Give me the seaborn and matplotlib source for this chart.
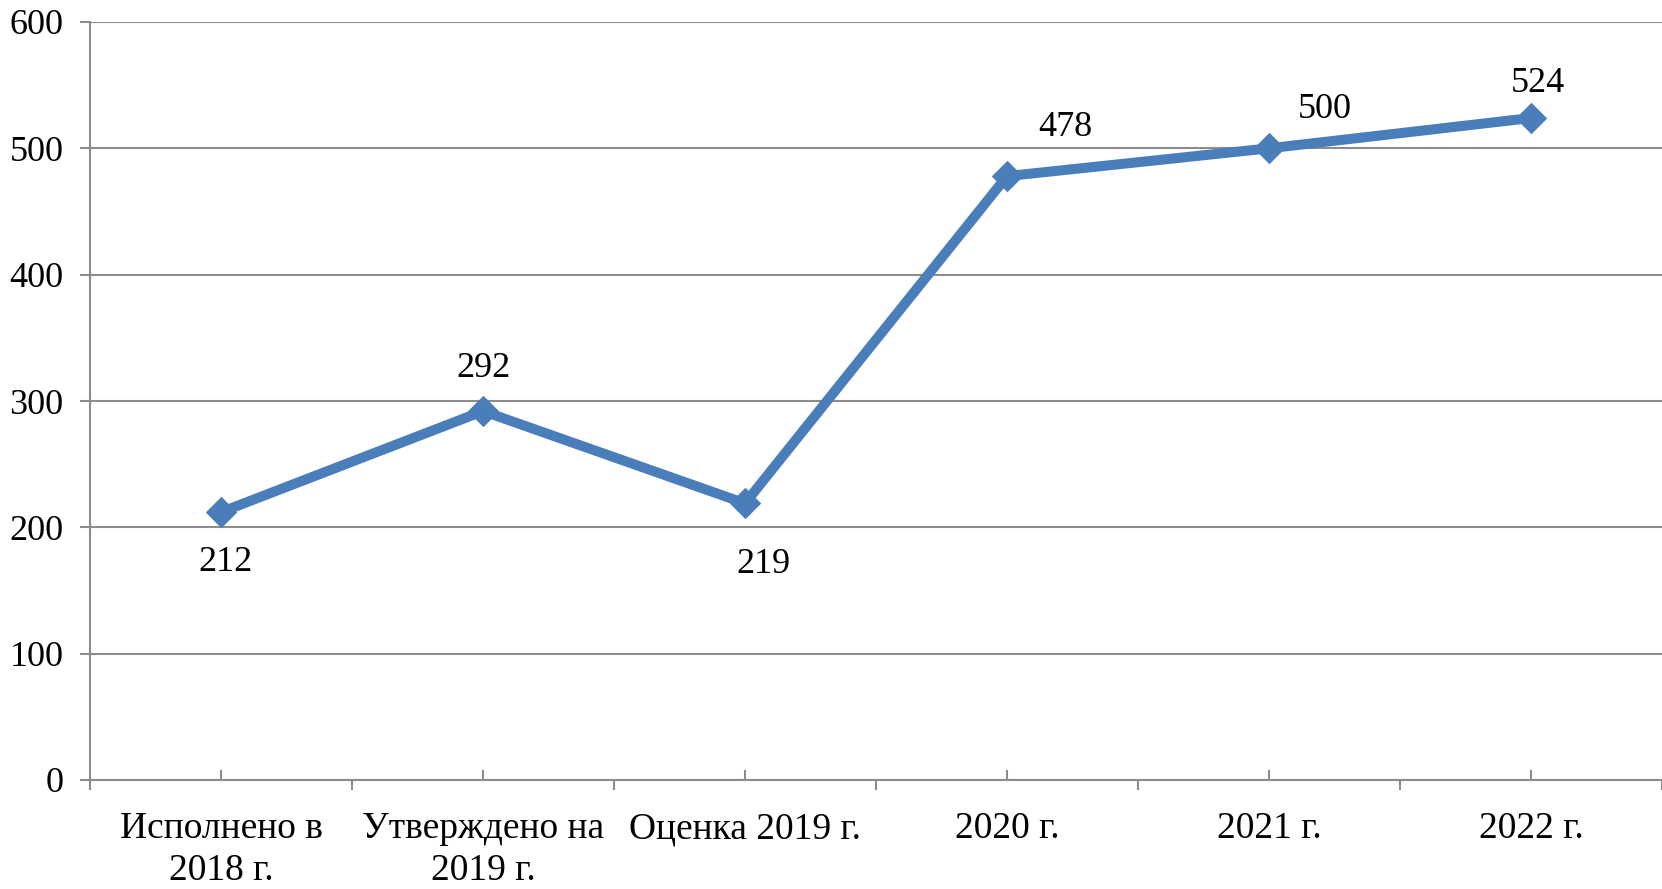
import matplotlib
matplotlib.use("Agg")
import matplotlib.pyplot as plt
import seaborn as sns
import numpy as np
import pandas as pd

# Data
categories = ["Исполнено в\n2018 г.", "Утверждено на\n2019 г.", "Оценка 2019 г.",
              "2020 г.", "2021 г.", "2022 г."]
values = [212, 292, 219, 478, 500, 524]
y_ticks = [0, 100, 200, 300, 400, 500, 600]

# label offsets in points (dx, dy), styling only
label_offsets = [(3, -36), (0, 31), (13, -44), (42, 35), (40, 28), (5, 25)]

line_color = "#4a7ebb"
grid_color = "#8c8c8c"

sns.set_theme(style="white")
plt.rcParams['font.family'] = ['Liberation Serif', 'DejaVu Serif']

fig = plt.figure(figsize=(16.62, 8.89), dpi=100)
ax = fig.add_axes([90 / 1662, 1 - 780 / 889, 1 - 90 / 1662, (780 - 22) / 889])

df = pd.DataFrame({'pos': np.arange(len(categories)), 'value': values})
sns.lineplot(data=df, x='pos', y='value', ax=ax, color=line_color, linewidth=7.2,
             marker='D', markersize=15.5, markeredgecolor=line_color, sort=False)

for i, v in enumerate(values):
    dx, dy = label_offsets[i]
    ax.annotate(str(v), (i, v), xytext=(dx, dy), textcoords='offset points',
                ha='center', va='center', fontsize=26, color='black')

ax.set_xlim(-0.5, len(categories) - 0.5)
ax.set_ylim(0, 600)
ax.set_yticks(y_ticks)
ax.set_yticklabels([str(t) for t in y_ticks], fontsize=26, color='black')
ax.set_xticks(np.arange(len(categories)))
ax.set_xticklabels(categories, fontsize=27, color='black', linespacing=1.27)
ax.set_xticks(np.arange(-0.5, len(categories), 1), minor=True)

ax.yaxis.grid(True, color=grid_color, linewidth=1.5)
ax.xaxis.grid(False)
ax.set_axisbelow(True)
for s in ['top', 'right']:
    ax.spines[s].set_visible(False)
for s in ['left', 'bottom']:
    ax.spines[s].set_color(grid_color)
    ax.spines[s].set_linewidth(1.5)

ax.tick_params(axis='y', direction='out', length=7, width=1.5, color=grid_color, pad=12, left=True)
ax.tick_params(axis='x', which='major', direction='in', length=7, width=1.5, color=grid_color,
               pad=23, bottom=True)
ax.tick_params(axis='x', which='minor', direction='out', length=7, width=1.5, color=grid_color,
               bottom=True)
ax.set_xlabel('')
ax.set_ylabel('')

fig.savefig('out.png', dpi=100)
